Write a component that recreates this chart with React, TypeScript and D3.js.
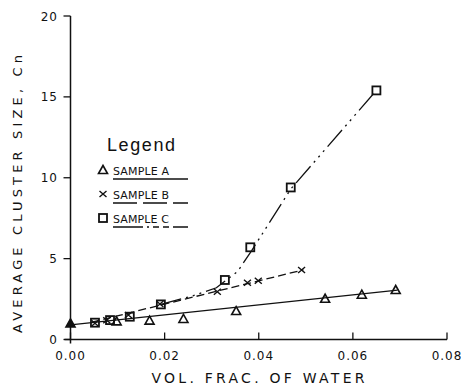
import React from "react";
import * as d3 from "d3";

const xTicks = [0, 0.02, 0.04, 0.06, 0.08];
const xTickLabels = ["0.00", "0.02", "0.04", "0.06", "0.08"];
const yTicks = [0, 5, 10, 15, 20];
const yTickLabels = ["0", "5", "10", "15", "20"];

const aX = [0, 0.0098, 0.0168, 0.024, 0.0352, 0.0541, 0.0619, 0.0691];
const aY = [1.0, 1.12, 1.17, 1.27, 1.76, 2.52, 2.77, 3.06];
const bX = [0.0052, 0.0077, 0.0123, 0.019, 0.0312, 0.0376, 0.0399, 0.0491];
const bY = [1.0, 1.19, 1.51, 2.19, 2.95, 3.51, 3.63, 4.3];
const cX = [0.0052, 0.0084, 0.0126, 0.0192, 0.0328, 0.0382, 0.0468, 0.065];
const cY = [1.04, 1.2, 1.41, 2.17, 3.68, 5.7, 9.4, 15.4];

const aFitX = [0, 0.0695];
const aFitY = [0.9, 3.05];
const bFitX = [0.0045, 0.0495];
const bFitY = [1.07, 4.31];
const cFitX = [0.019, 0.026, 0.031, 0.0355, 0.0385, 0.0468, 0.065];
const cFitY = [2.15, 2.7, 3.2, 4.2, 5.5, 9.3, 15.4];

const legendLabels = ["SAMPLE A", "SAMPLE B", "SAMPLE C"];

const INK = "#111";
const plotFont = "'DejaVu Sans', sans-serif";

export default function App() {
  const x = d3.scaleLinear().domain([0, 0.08]).range([70.5, 447]);
  const y = d3.scaleLinear().domain([0, 20]).range([339.5, 16]);
  const line = d3.line<[number, number]>().x((d) => x(d[0])).y((d) => y(d[1]));
  const zip = (a: number[], b: number[]) => a.map((v, i) => [v, b[i]] as [number, number]);

  const tri = (cx: number, cy: number, key: string, filled = false) => (
    <path
      key={key}
      d={`M${cx},${cy - 4.5}L${cx + 4.5},${cy + 3.5}L${cx - 4.5},${cy + 3.5}Z`}
      fill={filled ? INK : "none"}
      stroke={INK}
      strokeWidth={1.6}
    />
  );
  const cross = (cx: number, cy: number, key: string) => (
    <path
      key={key}
      d={`M${cx - 3.5},${cy - 3}L${cx + 3.5},${cy + 3}M${cx - 3.5},${cy + 3}L${cx + 3.5},${cy - 3}`}
      stroke={INK}
      strokeWidth={1.4}
    />
  );
  const sq = (cx: number, cy: number, key: string) => (
    <rect key={key} x={cx - 4} y={cy - 4} width={8} height={8} fill="none" stroke={INK} strokeWidth={1.8} />
  );

  const legendRows = [170, 194, 218];
  const legendDash = ["none", "24,6", "30,4,2,4,6,4,6,4"];
  const legendSyms = [tri, cross, sq];

  return (
    <svg
      width={461}
      height={387}
      style={{ position: "absolute", left: 0, top: 0, background: "#fff" }}
      fontFamily={plotFont}
    >
      <rect width={461} height={387} fill="#fff" />
      {/* axes */}
      <line x1={x(0)} x2={x(0)} y1={y(20)} y2={y(0) + 4} stroke={INK} strokeWidth={1.5} />
      <line x1={x(0) - 6} x2={x(0.08)} y1={y(0)} y2={y(0)} stroke={INK} strokeWidth={1.5} />
      {yTicks.map((t, i) => (
        <g key={"yt" + i}>
          <line x1={x(0) - 7} x2={x(0)} y1={y(t)} y2={y(t)} stroke={INK} strokeWidth={1.3} />
          <text x={58} y={y(t) + 4.5} textAnchor="end" fontSize={12} fill={INK} letterSpacing={1}>
            {yTickLabels[i]}
          </text>
        </g>
      ))}
      {xTicks.map((t, i) => (
        <g key={"xt" + i}>
          <line x1={x(t)} x2={x(t)} y1={y(0)} y2={y(0) - 7} stroke={INK} strokeWidth={1.3} />
          <text x={x(t)} y={360} textAnchor="middle" fontSize={12} fill={INK} letterSpacing={1}>
            {xTickLabels[i]}
          </text>
        </g>
      ))}
      <text x={258} y={383} textAnchor="middle" fontSize={14} fill={INK} textLength={213} lengthAdjust="spacing">
        VOL. FRAC. OF WATER
      </text>
      <text
        transform="translate(22,194) rotate(-90)"
        textAnchor="middle"
        fontSize={13}
        fill={INK}
        textLength={278}
        lengthAdjust="spacing"
      >
        AVERAGE CLUSTER SIZE, Cn
      </text>

      {/* fit lines */}
      <path d={line(zip(aFitX, aFitY)) || ""} fill="none" stroke={INK} strokeWidth={1.3} />
      <path d={line(zip(bFitX, bFitY)) || ""} fill="none" stroke={INK} strokeWidth={1.3} strokeDasharray="8,4" />
      <path
        d={line(zip(cFitX, cFitY)) || ""}
        fill="none"
        stroke={INK}
        strokeWidth={1.3}
        strokeDasharray="22,5,2,5,2,5,2,5"
      />

      {/* markers */}
      {aX.map((v, i) => tri(x(v), y(aY[i]), "a" + i, i === 0))}
      {bX.map((v, i) => cross(x(v), y(bY[i]), "b" + i))}
      {cX.map((v, i) => sq(x(v), y(cY[i]), "c" + i))}

      {/* legend */}
      <text
        x={107}
        y={151}
        fontSize={18}
        fill={INK}
        fontFamily="'Liberation Sans', sans-serif"
        textLength={68}
        lengthAdjust="spacing"
      >
        Legend
      </text>
      {legendLabels.map((lab, i) => (
        <g key={"lg" + i}>
          {legendSyms[i](103, legendRows[i], "ls" + i)}
          <text x={113} y={legendRows[i] + 4.5} fontSize={11} fill={INK} textLength={56} lengthAdjust="spacing">
            {lab}
          </text>
          <line
            x1={113}
            x2={188}
            y1={legendRows[i] + 9}
            y2={legendRows[i] + 9}
            stroke={INK}
            strokeWidth={1.3}
            strokeDasharray={legendDash[i]}
          />
        </g>
      ))}
    </svg>
  );
}
